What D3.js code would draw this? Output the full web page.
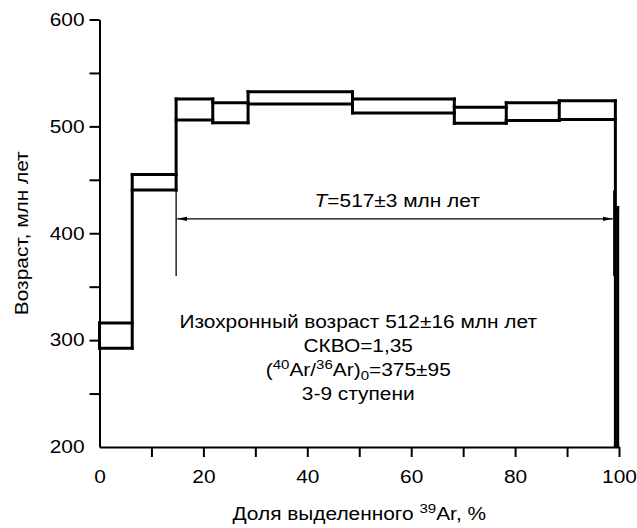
<!DOCTYPE html>
<html>
<head>
<meta charset="utf-8">
<script src="https://cdn.jsdelivr.net/npm/d3@7"></script>
<style>
  body { margin: 0; background: #fff; }
  svg text { font-family: "Liberation Sans", Arial, sans-serif; fill: #000; }
</style>
</head>
<body>
<div id="graf"></div>
<script>
// доля выделенного 39Ar, границы ступеней (%)
const bounds = [0, 6.3, 14.75, 21.8, 28.6, 48.7, 68.3, 78.3, 88.5, 99.3, 99.75]
// возраст ступеней, верх / низ (млн лет)
const ageHigh = [316, 455, 525.5, 522, 532.5, 525.5, 518, 522, 524, 424]
const ageLow = [292.5, 440.5, 506, 503.5, 521, 512.5, 503, 505.5, 506.5, 200]
const xTicks = [0, 10, 20, 30, 40, 50, 60, 70, 80, 90, 100]
const yTicks = [200, 250, 300, 350, 400, 450, 500, 550, 600]
const plateau = { from: 14.75, to: 99.0, age: 413.5, markLow: 360, markHigh: 440 }
const notes = ['Изохронный возраст 512±16 млн лет', 'СКВО=1,35', null, '3-9 ступени']

const anchoTotal = 637
const altoTotal = 528
const margin = { top: 19.5, left: 99.5, right: 18, bottom: 81 }
const ancho = anchoTotal - margin.left - margin.right
const alto = altoTotal - margin.top - margin.bottom
const sx = 1.16   // el original usa letra más ancha

const svg = d3.select('#graf')
  .append('svg')
  .attr('width', anchoTotal)
  .attr('height', altoTotal)

const defs = svg.append('defs')
defs.append('marker')
  .attr('id', 'flecha')
  .attr('viewBox', '0 0 10 6')
  .attr('refX', 10).attr('refY', 3)
  .attr('markerWidth', 10).attr('markerHeight', 6)
  .attr('markerUnits', 'userSpaceOnUse')
  .attr('orient', 'auto-start-reverse')
  .append('path')
  .attr('d', 'M0,0.8 L10,3 L0,5.2 Z')
  .attr('fill', '#000')
defs.append('clipPath').attr('id', 'area')
  .append('rect')
  .attr('x', -2).attr('y', -4).attr('width', ancho + 4).attr('height', alto + 4)

const g = svg.append('g')
  .attr('transform', `translate(${margin.left}, ${margin.top})`)

const x = d3.scaleLinear().domain([0, 100]).range([0, ancho])
const y = d3.scaleLinear().domain([200, 600]).range([alto, 0])

// texto ensanchado
function texto(parent, px, py, rot) {
  return parent.append('g')
    .attr('transform', `translate(${px}, ${py})${rot ? ' rotate(' + rot + ')' : ''} scale(${sx}, 1)`)
    .append('text')
    .attr('text-anchor', 'middle')
    .attr('font-size', 18)
}

// ejes
const xAxis = g.append('g')
  .attr('transform', `translate(0, ${alto})`)
  .call(d3.axisBottom(x)
    .tickValues(xTicks)
    .tickSize(10)
    .tickSizeOuter(0)
    .tickPadding(13)
    .tickFormat(d => d % 20 === 0 ? d : ''))
xAxis.select('.domain').attr('stroke-width', 2)
xAxis.selectAll('.tick line').attr('stroke-width', 2)
  .filter(d => d === 0).remove()
xAxis.selectAll('text').attr('font-size', 18)
  .attr('transform', `scale(${sx}, 1)`)

const yAxis = g.append('g')
  .call(d3.axisLeft(y)
    .tickValues(yTicks)
    .tickSize(10)
    .tickSizeOuter(0)
    .tickPadding(5)
    .tickFormat(d => d % 100 === 0 ? d : ''))
yAxis.select('.domain').attr('stroke-width', 2)
yAxis.selectAll('.tick line').attr('stroke-width', 2)
  .filter(d => d === 200).remove()
yAxis.selectAll('text').attr('font-size', 18)
  .attr('x', -15 / sx)
  .attr('transform', `scale(${sx}, 1)`)

// спектр: ступени
const steps = ageHigh.map((h, i) => ({ x0: bounds[i], x1: bounds[i + 1], hi: h, lo: ageLow[i] }))
const spec = g.append('g').attr('clip-path', 'url(#area)')
  .attr('stroke', '#000').attr('stroke-width', 3).attr('fill', 'none')
  .attr('stroke-linecap', 'square')

spec.selectAll('.top').data(steps).enter().append('line')
  .attr('x1', d => x(d.x0)).attr('x2', d => x(d.x1))
  .attr('y1', d => y(d.hi)).attr('y2', d => y(d.hi))
spec.selectAll('.bot').data(steps).enter().append('line')
  .attr('x1', d => x(d.x0)).attr('x2', d => x(d.x1))
  .attr('y1', d => y(d.lo)).attr('y2', d => y(d.lo))

// вертикальные границы
const edges = bounds.map((b, i) => {
  const near = steps.filter((s, j) => j === i - 1 || j === i)
  return { b, lo: d3.min(near, s => s.lo), hi: d3.max(near, s => s.hi) }
})
spec.selectAll('.edge').data(edges).enter().append('line')
  .attr('x1', d => x(d.b)).attr('x2', d => x(d.b))
  .attr('y1', d => y(d.lo)).attr('y2', d => y(d.hi))

// плато
const pl = g.append('g').attr('stroke', '#000').attr('stroke-width', 1.3)
pl.selectAll('line.mark').data([plateau.from, plateau.to]).enter().append('line')
  .attr('x1', d => x(d)).attr('x2', d => x(d))
  .attr('y1', y(plateau.markLow)).attr('y2', y(plateau.markHigh))
pl.append('line')
  .attr('x1', x(plateau.from) + 1).attr('x2', x(plateau.to) - 1)
  .attr('y1', y(plateau.age)).attr('y2', y(plateau.age))
  .attr('marker-start', 'url(#flecha)')
  .attr('marker-end', 'url(#flecha)')

const tLabel = texto(g, x(57.3), y(plateau.age) - 12)
tLabel.append('tspan').attr('font-style', 'italic').text('T')
tLabel.append('tspan').text('=517±3 млн лет')

// подписи
notes.forEach((n, i) => {
  const t = texto(g, x(49.8), 308 + i * 24)
  if (n) { t.text(n); return }
  t.append('tspan').text('(')
  t.append('tspan').attr('font-size', 13).attr('dy', -7).text('40')
  t.append('tspan').attr('dy', 7).text('Ar/')
  t.append('tspan').attr('font-size', 13).attr('dy', -7).text('36')
  t.append('tspan').attr('dy', 7).text('Ar)')
  t.append('tspan').attr('font-size', 13).attr('dy', 4).text('0')
  t.append('tspan').attr('dy', -4).text('=375±95')
})

// títulos de ejes
const xt = texto(g, ancho / 2, alto + 73)
xt.append('tspan').text('Доля выделенного ')
xt.append('tspan').attr('font-size', 13).attr('dy', -7).text('39')
xt.append('tspan').attr('dy', 7).text('Ar, %')

texto(g, -72, alto / 2, -90).text('Возраст, млн лет')
</script>
</body>
</html>
